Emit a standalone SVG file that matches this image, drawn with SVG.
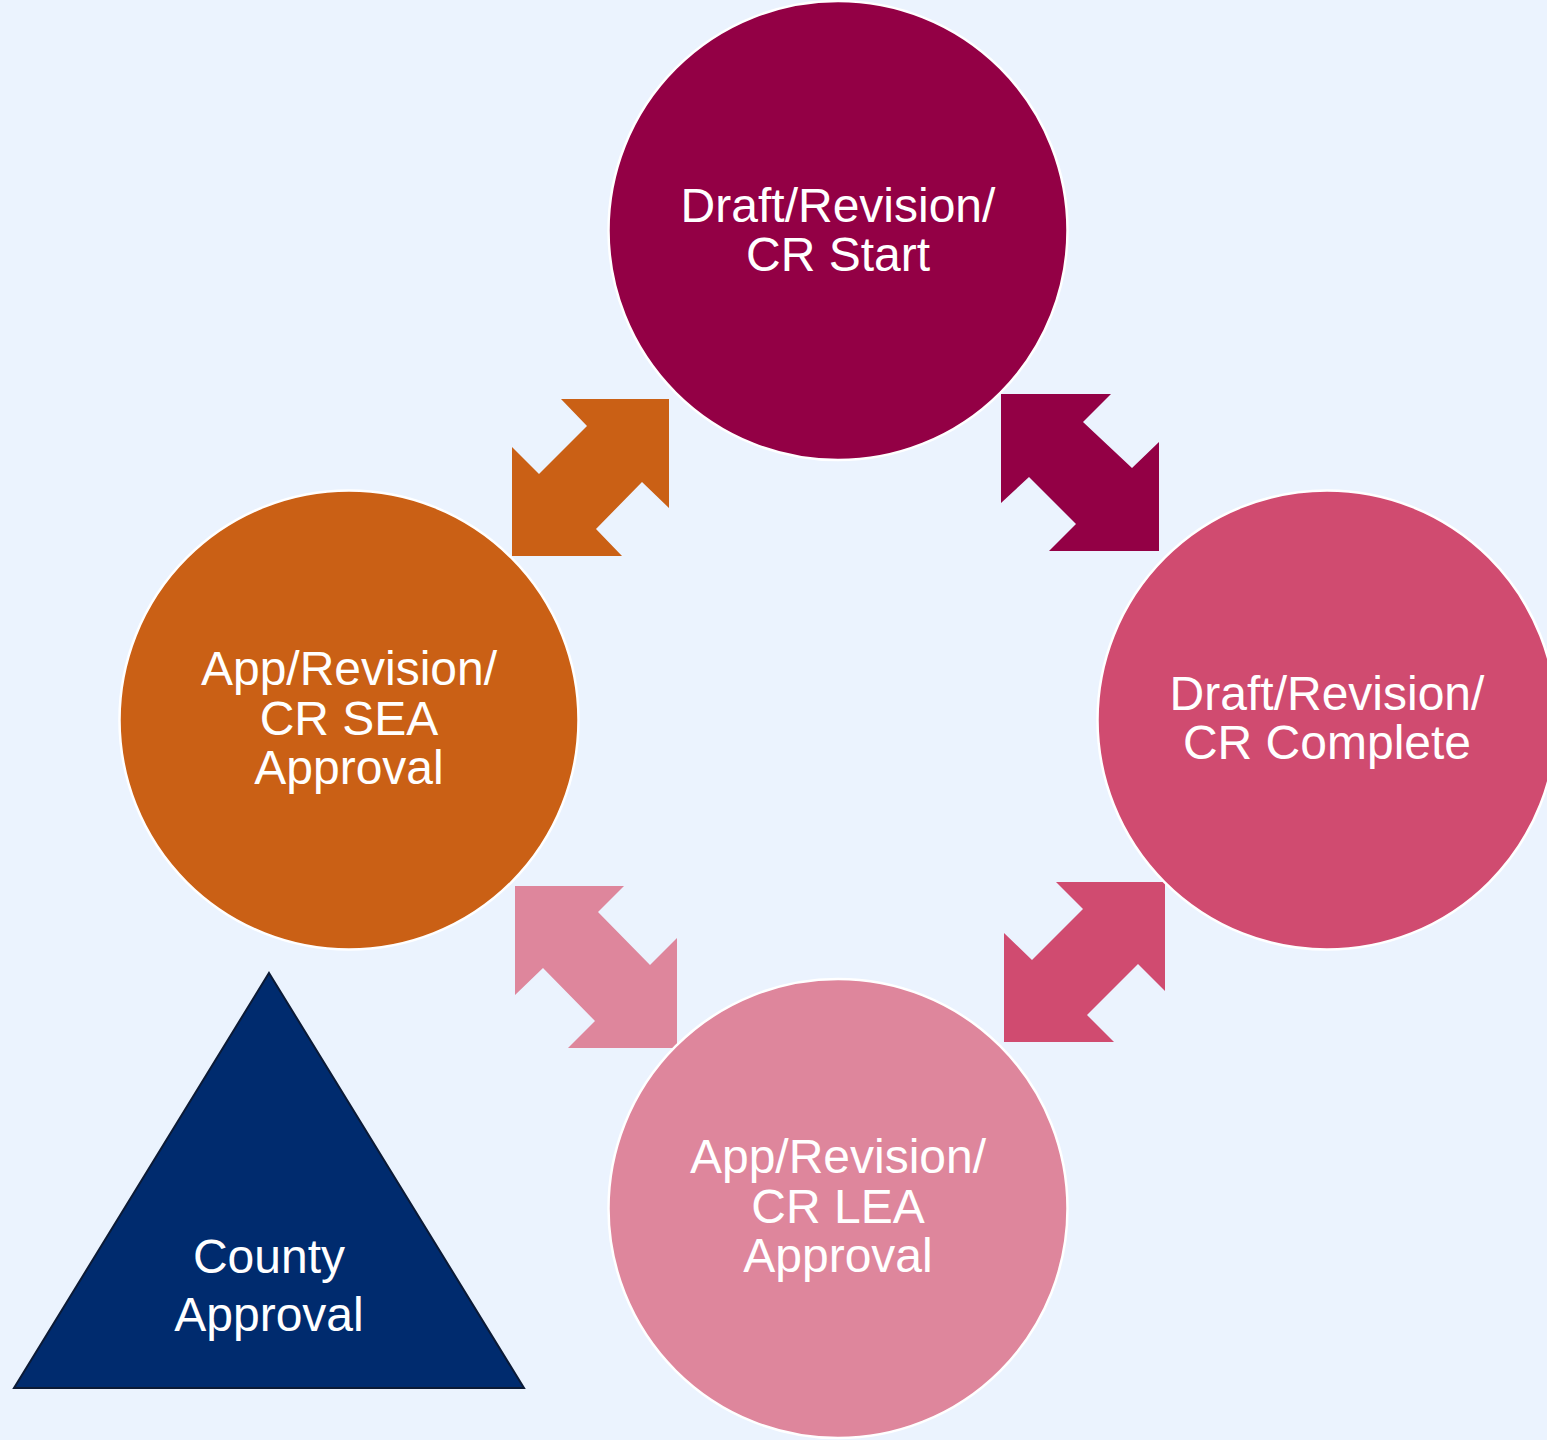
<svg xmlns="http://www.w3.org/2000/svg" width="1547" height="1440" viewBox="0 0 1547 1440">
  <style>
    .node-circle { stroke: #ffffff; stroke-width: 2.5; }
    .label { font-family: "Liberation Sans", Arial, sans-serif; font-size: 48px; fill: #ffffff; text-anchor: middle; }
    .c-plum { fill: #930045; }
    .c-rose { fill: #D04B70; }
    .c-orange { fill: #CA6015; }
    .c-pink { fill: #DE869C; }
  </style>
  <rect x="0" y="0" width="1547" height="1440" fill="#EBF3FE"/>

  <g id="connectors">
    <polygon class="c-orange" points="561,399 669,399 669,508 642,482 596,529 622,556 512,556 512,447 539,474 587,426"/>
    <polygon class="c-plum" points="1001,394 1111,394 1083,422 1132,468 1159,442 1159,551 1049,551 1076,524 1029,477 1001,503"/>
    <polygon class="c-pink" points="515,886 624,886 598,912 650,965 677,938 677,1048 568,1048 595,1021 543,968 515,995"/>
    <polygon class="c-rose" points="1056,882 1165,882 1165,991 1138,964 1087,1015 1114,1042 1004,1042 1004,933 1032,960 1083,909"/>
  </g>

  <g id="node-draft-start">
    <circle class="node-circle c-plum" cx="838" cy="230.5" r="229.5"/>
    <text class="label" x="838" y="222">Draft/Revision/</text>
    <text class="label" x="838" y="271">CR Start</text>
  </g>

  <g id="node-draft-complete">
    <circle class="node-circle c-rose" cx="1327" cy="720" r="229.5"/>
    <text class="label" x="1327" y="710">Draft/Revision/</text>
    <text class="label" x="1327" y="759">CR Complete</text>
  </g>

  <g id="node-sea-approval">
    <circle class="node-circle c-orange" cx="349" cy="720" r="229.5"/>
    <text class="label" x="349" y="685">App/Revision/</text>
    <text class="label" x="349" y="735">CR SEA</text>
    <text class="label" x="349" y="784">Approval</text>
  </g>

  <g id="node-lea-approval">
    <circle class="node-circle c-pink" cx="838" cy="1208.5" r="229.5"/>
    <text class="label" x="838" y="1173">App/Revision/</text>
    <text class="label" x="838" y="1223">CR LEA</text>
    <text class="label" x="838" y="1272">Approval</text>
  </g>

  <g id="node-county-approval">
    <polygon points="269,973 524,1388 14,1388" fill="#002B6E" stroke="#0B1A36" stroke-width="2"/>
    <text class="label" x="269" y="1273">County</text>
    <text class="label" x="269" y="1331">Approval</text>
  </g>
</svg>
